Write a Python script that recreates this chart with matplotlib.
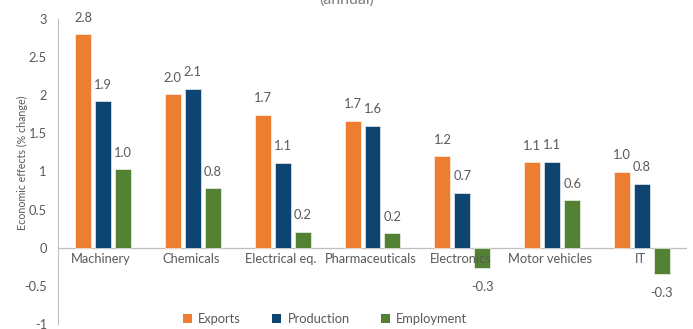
import matplotlib
matplotlib.use("Agg")
import matplotlib.pyplot as plt
import numpy as np
from matplotlib.patches import Patch

categories = ["Machinery", "Chemicals", "Electrical eq.", "Pharmaceuticals",
              "Electronics", "Motor vehicles", "IT"]
exports = [2.80, 2.01, 1.74, 1.66, 1.20, 1.12, 1.00]
production = [1.92, 2.08, 1.11, 1.60, 0.72, 1.13, 0.84]
employment = [1.03, 0.78, 0.21, 0.19, -0.27, 0.62, -0.35]
series_names = ["Exports", "Production", "Employment"]
colors = ["#ED7D31", "#0E4472", "#548235"]
yticks = [-1, -0.5, 0, 0.5, 1, 1.5, 2, 2.5, 3]
ytick_labels = ["-1", "-0.5", "0", "0.5", "1", "1.5", "2", "2.5", "3"]

plt.rcParams['font.family'] = ['Lato', 'DejaVu Sans']
txt = "#595959"
fs = 9.3

fig = plt.figure(figsize=(6.93, 3.29), dpi=100)
ax = fig.add_axes([58/693, 1 - 324/329, (687-58)/693, (324-19)/329])

x = np.arange(len(categories))
w = 0.178
step = 0.222
for i, (vals, c) in enumerate(zip([exports, production, employment], colors)):
    pos = x + (i - 1) * step
    ax.bar(pos, vals, width=w, color=c, edgecolor="white", linewidth=0.4, zorder=2)
    for p, v in zip(pos, vals):
        if v >= 0:
            ax.text(p, v + 0.14, f"{v:.1f}", ha="center", va="bottom", fontsize=fs, color=txt)
        else:
            ax.text(p, v - 0.16, f"{v:.1f}", ha="center", va="top", fontsize=fs, color=txt)

ax.set_xlim(-0.5, len(categories) - 0.5)
ax.set_ylim(-1, 3)
ax.set_yticks(yticks)
ax.set_yticklabels(ytick_labels, fontsize=fs, color=txt)
ax.set_xticks([])
ax.tick_params(axis="y", length=0, pad=8)
for s in ["top", "right", "bottom"]:
    ax.spines[s].set_visible(False)
ax.spines["left"].set_color("#BFBFBF")
ax.axhline(0, color="#BFBFBF", linewidth=0.9, zorder=1)

for xi, cat in zip(x, categories):
    ax.text(xi - 0.02, -0.07, cat, ha="center", va="top", fontsize=fs, color=txt)

ax.set_ylabel("Economic effects (% change)", fontsize=7.7, color=txt)
ax.yaxis.set_label_coords((28 - 58) / (687 - 58), (324 - 163) / (324 - 19))

handles = [Patch(facecolor=c, label=n) for c, n in zip(colors, series_names)]
fig.legend(handles=handles, loc="center", bbox_to_anchor=(325/693, 1 - 319/329),
           ncol=3, frameon=False, fontsize=fs, labelcolor=txt,
           handlelength=0.7, handleheight=0.7, columnspacing=2.4, handletextpad=0.5)

fig.text(347/693, 1 - 0/329, "(annual)", ha="center", va="center", fontsize=11.5, color="#7F7F7F")

fig.savefig("out.png", dpi=100)
